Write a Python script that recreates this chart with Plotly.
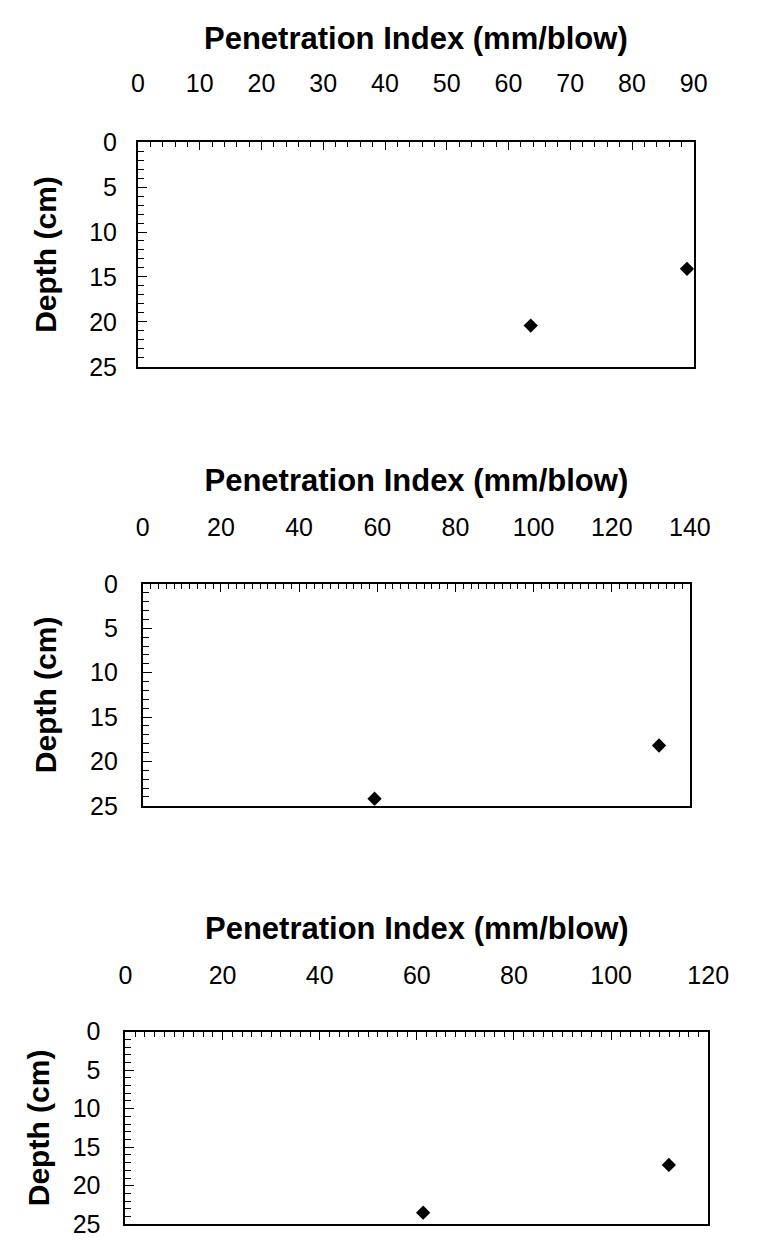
import plotly.graph_objects as go

# ---- data ----
pi_1 = [63.6, 88.9]
depth_1 = [20.4, 14.1]
pi_2 = [59.3, 132.1]
depth_2 = [24.2, 18.2]
pi_3 = [61.3, 111.9]
depth_3 = [23.5, 17.3]

x_max = [90, 140, 120]
x_major = [10, 20, 20]
depth_ticks = [0, 5, 10, 15, 20, 25]

x_title = "Penetration Index (mm/blow)"
y_title = "Depth (cm)"

W, H = 761, 1249
# plot-box pixel positions (left, right, top, bottom)
boxes = [(136, 713, 131, 361), (141, 709, 583, 810), (123, 728, 1041, 1238)]
x_label_gap = [38, 36, 36]
x_title_gap = [10, 12, 12]
y_label_gap = [14, 18, 18]
y_title_gap = [24, 24, 14]

FONT = "Liberation Sans, Arial, sans-serif"

fig = go.Figure()
series = [(pi_1, depth_1), (pi_2, depth_2), (pi_3, depth_3)]
for i, (xs, ys) in enumerate(series):
    n = "" if i == 0 else str(i + 1)
    fig.add_trace(go.Scatter(
        x=xs, y=ys, mode="markers",
        marker=dict(symbol="diamond", size=11, color="black"),
        xaxis="x" + n, yaxis="y" + n, showlegend=False,
    ))
    l, r, t, b = boxes[i]
    xa = dict(
        domain=[l / W, r / W], anchor="y" + n, side="top",
        range=[0, x_max[i]], tick0=0, dtick=x_major[i],
        ticks="inside", ticklen=8, tickwidth=1, tickcolor="black",
        minor=dict(ticks="inside", dtick=2, ticklen=5, tickwidth=1, tickcolor="black"),
        showline=True, linecolor="black", linewidth=2, mirror=True,
        showgrid=False, zeroline=False,
        tickfont=dict(family=FONT, size=25, color="black"),
        ticklabelstandoff=x_label_gap[i],
        title=dict(text="<b>" + x_title + "</b>",
                   font=dict(family=FONT, size=31, color="black"),
                   standoff=x_title_gap[i]),
    )
    ya = dict(
        domain=[1 - b / H, 1 - t / H], anchor="x" + n,
        range=[25, 0], tickvals=depth_ticks,
        ticks="inside", ticklen=9, tickwidth=1, tickcolor="black",
        minor=dict(ticks="inside", dtick=1, ticklen=6, tickwidth=1, tickcolor="black"),
        showline=True, linecolor="black", linewidth=2, mirror=True,
        showgrid=False, zeroline=False,
        tickfont=dict(family=FONT, size=25, color="black"),
        ticklabelstandoff=y_label_gap[i],
        title=dict(text="<b>" + y_title + "</b>",
                   font=dict(family=FONT, size=30, color="black"),
                   standoff=y_title_gap[i]),
    )
    fig.update_layout(**{"xaxis" + n: xa, "yaxis" + n: ya})

fig.update_layout(
    width=W, height=H,
    margin=dict(l=0, r=0, t=0, b=0),
    paper_bgcolor="white", plot_bgcolor="white",
    showlegend=False,
)

fig.write_html(
    "out.html",
    config={"displayModeBar": False},
    post_script="document.body.style.margin='0';document.body.style.padding='0';",
)
